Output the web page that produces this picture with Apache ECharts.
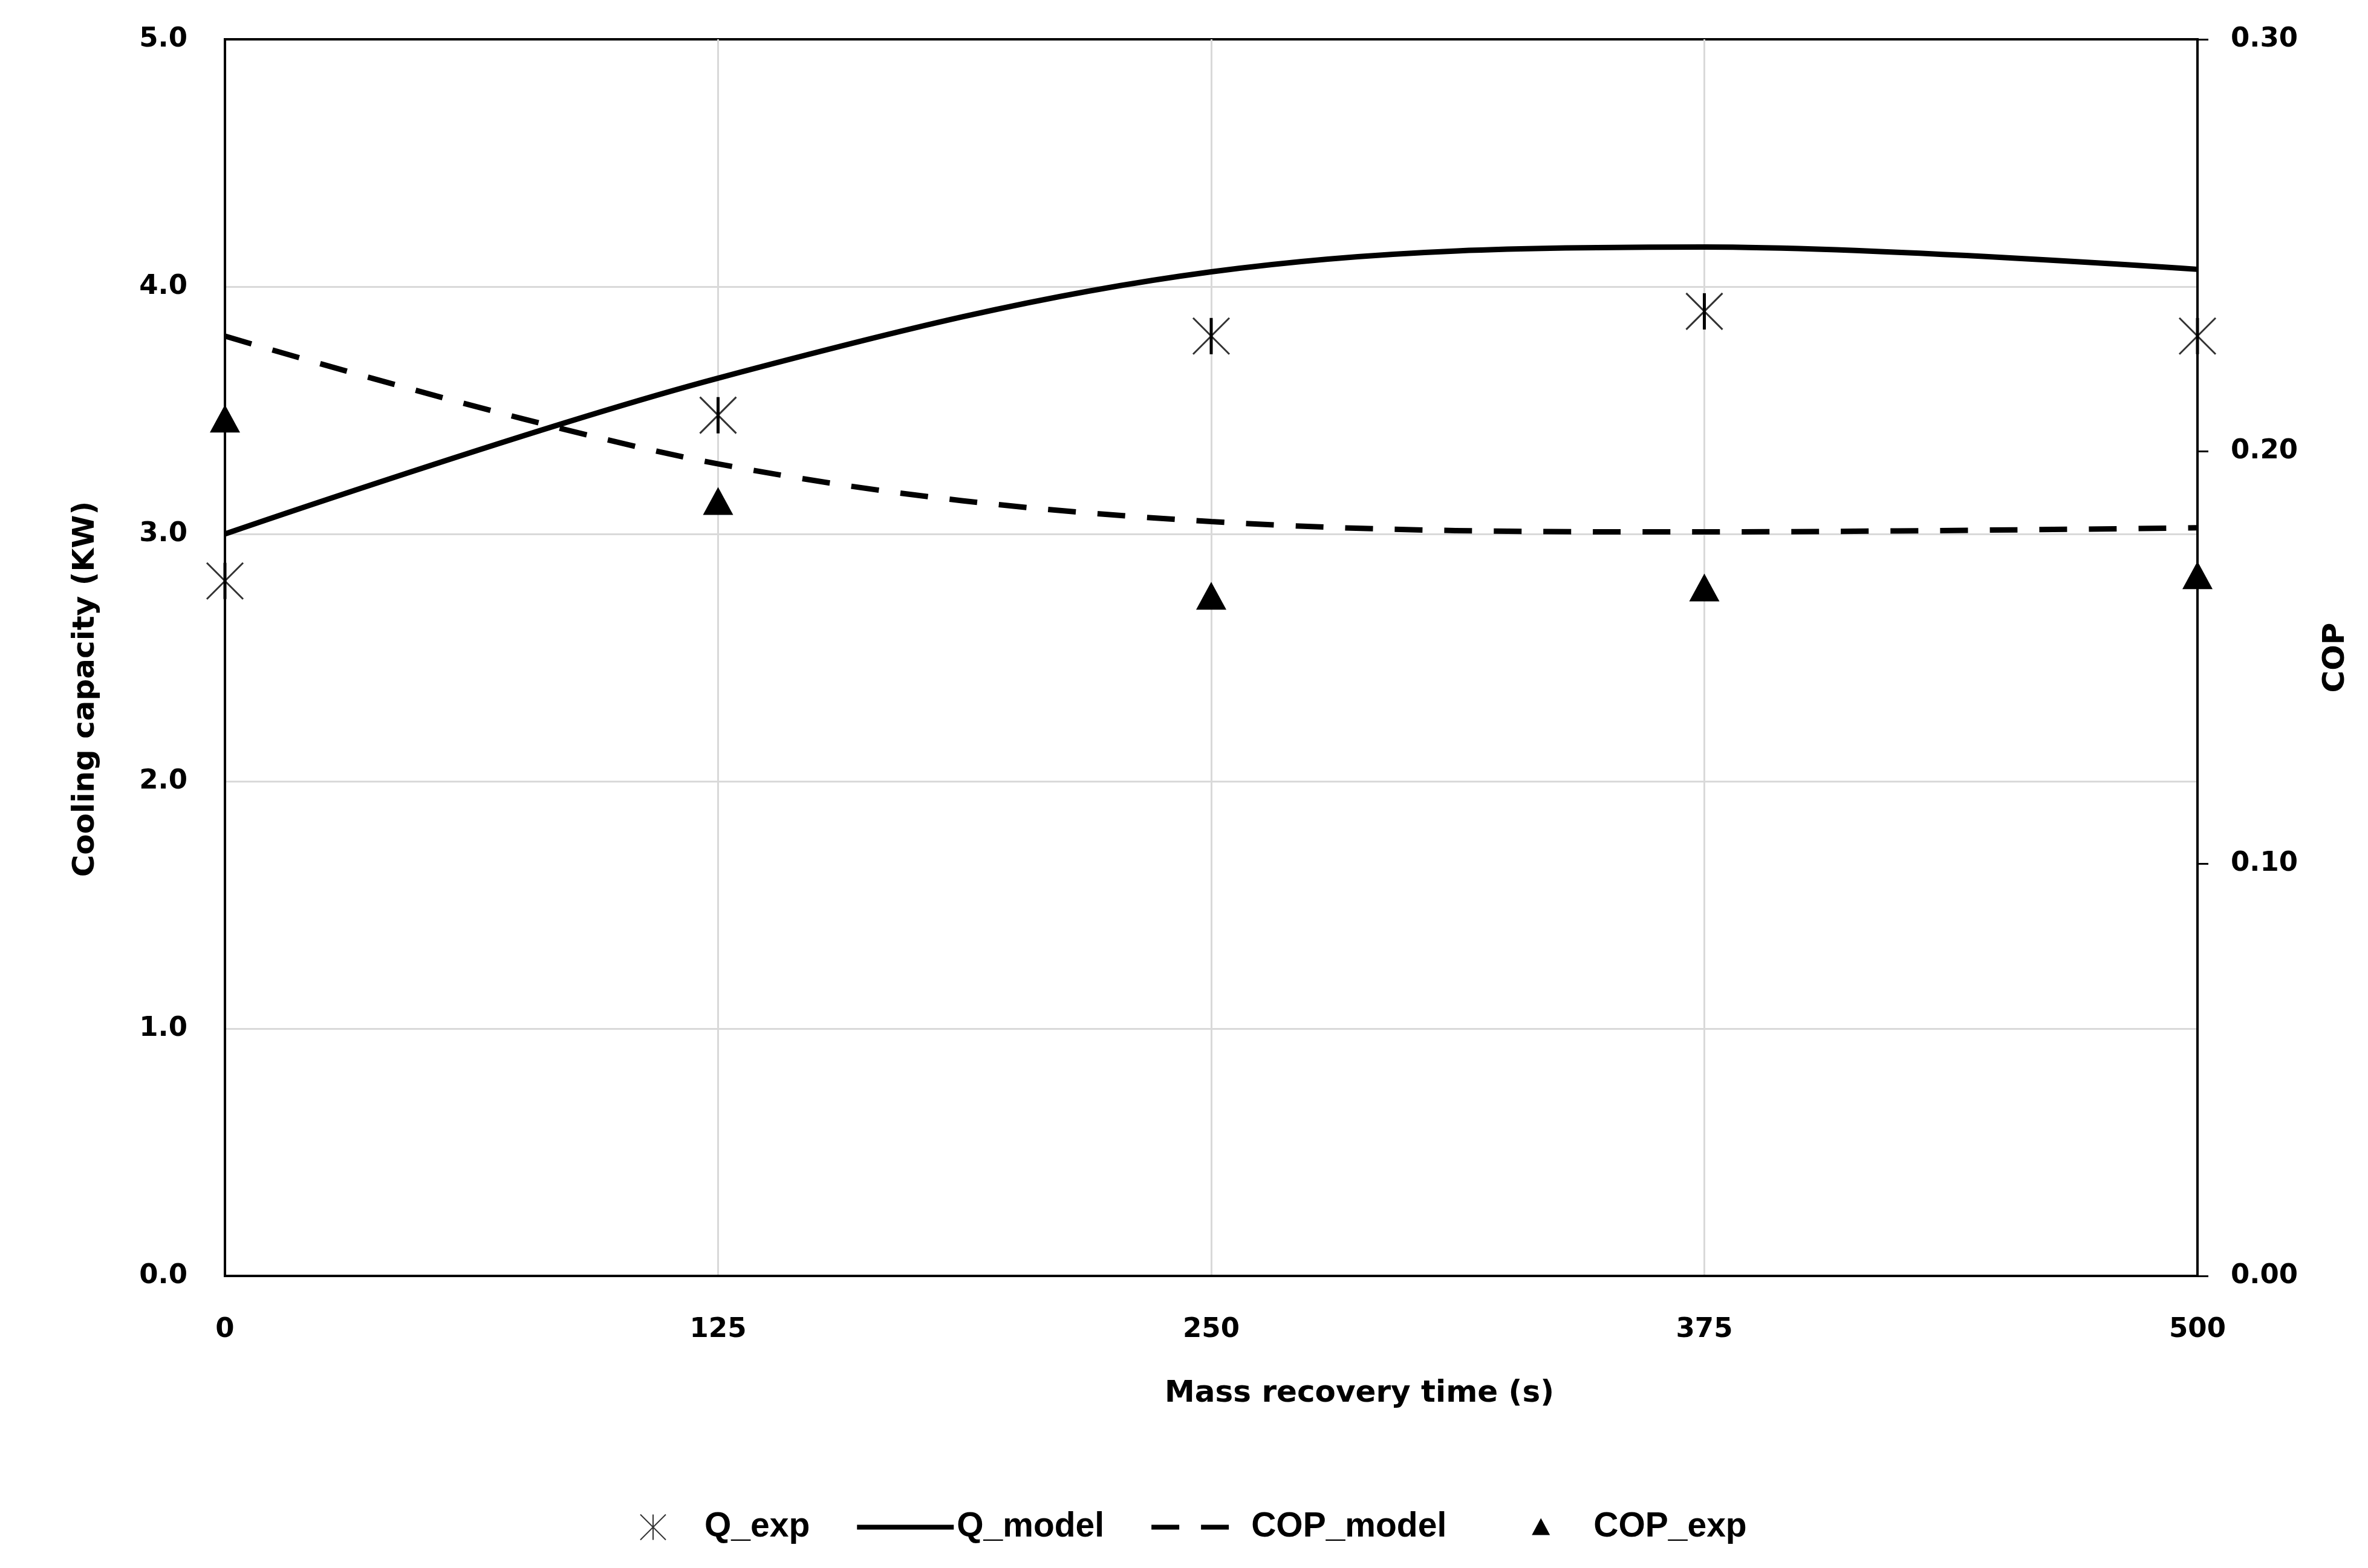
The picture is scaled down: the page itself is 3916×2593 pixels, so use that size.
<!DOCTYPE html>
<html><head><meta charset="utf-8">
<script src="https://cdn.jsdelivr.net/npm/echarts@6/dist/echarts.min.js"></script>
<style>html,body{margin:0;padding:0;background:#fff}#c{width:3916px;height:2593px}</style>
</head><body><div id="c"></div>
<script>
// ---- data ----
const times = [0, 125, 250, 375, 500];            // Mass recovery time (s)
const qExp = [2.81, 3.48, 3.80, 3.90, 3.80];      // Cooling capacity, experiment (kW)
const qModel = [3.00, 3.63, 4.06, 4.16, 4.07];    // Cooling capacity, model (kW)
const copModel = [0.228, 0.197, 0.183, 0.1805, 0.1815]; // COP, model
const copExp = [0.208, 0.188, 0.165, 0.167, 0.170];     // COP, experiment
const xTicks = [0, 125, 250, 375, 500];
const leftTicks = [0, 1, 2, 3, 4, 5];
const rightTicks = [0, 0.1, 0.2, 0.3];

const pairs = (xs, ys) => xs.map((x, i) => [x, ys[i]]);
const FONT = 'DejaVu Sans';
const tickLabel = {fontFamily: FONT, fontWeight: 'bold', fontSize: 45, color: '#000'};
const nameStyle = {fontFamily: FONT, fontWeight: 'bold', fontSize: 50, color: '#000'};
const ASTERISK_X = 'path://M0,0L60,60M60,0L0,60';

// legend icons (box 160 x 42)
const ICON_STAR = 'path://M0,0L42,42M42,0L0,42M21,0L21,42';
const ICON_SOLID = 'path://M0,0M160,42M0,17L160,17L160,25L0,25Z';
const ICON_DASH = 'path://M0,0M160,42M0,17L46,17L46,25L0,25Z M82,17L128,17L128,25L82,25Z';
const ICON_TRI = 'path://M0,0M160,42M63,34L93,34L78,6Z';

const chart = echarts.init(document.getElementById('c'), null, {renderer: 'canvas'});
chart.setOption({
  animation: false,
  backgroundColor: '#fff',
  grid: {left: 372, right: 282, top: 65, bottom: 483, show: true, borderColor: '#000', borderWidth: 4, backgroundColor: 'transparent'},
  legend: {
    data: [
      {name: 'Q_exp', icon: ICON_STAR},
      {name: 'Q_model', icon: ICON_SOLID},
      {name: 'COP_model', icon: ICON_DASH},
      {name: 'COP_exp', icon: ICON_TRI}
    ],
    left: 1053, top: 2492,
    itemWidth: 160, itemHeight: 42, itemGap: 78,
    textStyle: {fontFamily: 'Liberation Sans', fontWeight: 'bold', fontSize: 57, color: '#000'}
  },
  xAxis: {
    type: 'value', min: xTicks[0], max: xTicks[xTicks.length - 1], interval: xTicks[1] - xTicks[0],
    name: 'Mass recovery time (s)', nameLocation: 'middle', nameGap: 170,
    nameTextStyle: Object.assign({padding: [0, 0, 0, 490]}, nameStyle),
    axisLine: {show: true, lineStyle: {color: '#000', width: 4}},
    axisTick: {show: false},
    axisLabel: Object.assign({margin: 67}, tickLabel),
    splitLine: {show: true, showMinLine: false, showMaxLine: false, lineStyle: {color: '#d9d9d9', width: 3}}
  },
  yAxis: [{
    type: 'value', position: 'left', min: leftTicks[0], max: leftTicks[leftTicks.length - 1], interval: leftTicks[1] - leftTicks[0],
    name: 'Cooling capacity (KW)', nameLocation: 'middle', nameGap: 205, nameRotate: 90,
    nameTextStyle: Object.assign({padding: [0, 104, 0, 0]}, nameStyle),
    axisLine: {show: true, lineStyle: {color: '#000', width: 4}},
    axisTick: {show: false},
    axisLabel: Object.assign({margin: 62, padding: [10, 0, 0, 0], formatter: v => v.toFixed(1)}, tickLabel),
    splitLine: {show: true, showMinLine: false, showMaxLine: false, lineStyle: {color: '#d9d9d9', width: 3}}
  }, {
    type: 'value', position: 'right', min: rightTicks[0], max: rightTicks[rightTicks.length - 1], interval: rightTicks[1] - rightTicks[0],
    name: 'COP', nameLocation: 'middle', nameGap: 204, nameRotate: 90, nameTextStyle: nameStyle,
    axisLine: {show: true, lineStyle: {color: '#000', width: 4}},
    axisTick: {show: true, inside: false, length: 18, lineStyle: {color: '#000', width: 3}},
    axisLabel: Object.assign({margin: 55, padding: [10, 0, 0, 0], formatter: v => v.toFixed(2)}, tickLabel),
    splitLine: {show: false}
  }],
  series: [{
    name: 'Q_exp', type: 'scatter', yAxisIndex: 0,
    data: pairs(times, qExp),
    symbol: ASTERISK_X, symbolSize: 60,
    itemStyle: {color: '#333', borderColor: '#333', borderWidth: 3, opacity: 1},
    z: 3
  }, {
    name: 'Q_exp', type: 'scatter', yAxisIndex: 0,
    data: pairs(times, qExp),
    symbol: 'rect', symbolSize: [5, 60],
    itemStyle: {color: '#000', opacity: 1},
    z: 3
  }, {
    name: 'Q_model', type: 'line', yAxisIndex: 0,
    data: pairs(times, qModel),
    smooth: 0.35, symbol: 'none',
    lineStyle: {color: '#000', width: 9, type: 'solid'},
    itemStyle: {color: '#000'},
    z: 4
  }, {
    name: 'COP_model', type: 'line', yAxisIndex: 1,
    data: pairs(times, copModel),
    smooth: 0.35, symbol: 'none',
    lineStyle: {color: '#000', width: 9, type: [46, 36], cap: 'butt'},
    itemStyle: {color: '#000'},
    z: 4
  }, {
    name: 'COP_exp', type: 'scatter', yAxisIndex: 1,
    data: pairs(times, copExp),
    symbol: 'triangle', symbolSize: [50, 46],
    itemStyle: {color: '#000', opacity: 1},
    z: 5
  }]
});
</script></body></html>
